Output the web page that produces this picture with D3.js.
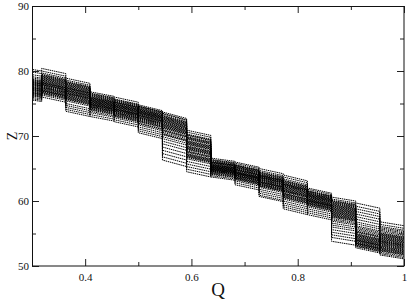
<!DOCTYPE html>
<html>
<head>
<meta charset="utf-8">
<script src="https://cdn.jsdelivr.net/npm/d3@7"></script>
<style>
	body { margin: 0; background: #fff; }
	svg { display: block; }
	text { font-family: "Liberation Serif", "DejaVu Serif", serif; fill: #111; }
</style>
</head>
<body>
<div id="chart"></div>
<script>
'use strict';

// Q steps in 1/22 (native contacts), one band of Z values per step (value at left edge of step)
var nContacts = 22;
var firstStep = 6;

var xTicks = [0.4, 0.6, 0.8, 1];
var xMinor = [0.5, 0.7, 0.9];
var yTicks = [50, 60, 70, 80, 90];
var yMinor = [55, 65, 75, 85];

// how much Z falls across each step
var stepDrop = [0.6, 0.8, 0.8, 0.7, 0.8, 0.9, 1.0, 0.8, 0.5, 0.8, 0.8, 0.9, 0.8, 0.6, 0.8, 0.6];

var band06 = [80.6, 80.2, 79.8, 79.5, 79.3, 79.1, 78.9, 78.8, 78.6, 78.5, 78.3, 78.2, 78.0, 77.9, 77.8, 77.6, 77.5, 77.4, 77.2, 77.1, 77.0, 76.9, 76.7, 76.5, 76.3, 76.1, 75.9, 78.4, 77.7, 78.7,
	78.1, 77.3, 78.6, 77.8, 76.8, 79.0, 77.0, 78.3, 77.5, 76.6];
var band07 = [80.4, 80.0, 79.7, 79.5, 79.3, 79.1, 79.0, 78.8, 78.7, 78.5, 78.4, 78.2, 78.1, 77.9, 77.8, 77.6, 77.5, 77.4, 77.2, 77.1, 77.0, 76.8, 76.7, 76.5, 76.3, 76.0, 78.9, 78.3, 77.7, 77.3,
	78.6, 77.9, 79.2, 77.5, 78.0, 76.9, 79.4, 78.2, 77.0, 76.6];
var band08 = [78.9, 78.6, 78.4, 78.2, 78.0, 77.9, 77.7, 77.6, 77.4, 77.3, 77.1, 77.0, 76.8, 76.7, 76.5, 76.4, 76.2, 76.0, 75.8, 75.6, 75.4, 75.0, 74.7, 74.4, 74.1, 73.8, 77.8, 77.2, 76.6, 75.9,
	77.5, 76.9, 78.1, 76.3, 77.0, 75.7, 78.3, 76.6, 77.4, 76.1];
var band09 = [76.8, 76.6, 76.4, 76.3, 76.1, 76.0, 75.9, 75.7, 75.6, 75.5, 75.3, 75.2, 75.1, 74.9, 74.8, 74.7, 74.5, 74.4, 74.3, 74.1, 74.0, 73.8, 73.6, 73.3, 73.0, 75.8, 75.4, 75.0, 74.6, 74.2,
	75.9, 75.5, 76.2, 74.9, 75.1, 74.5, 76.5, 75.7, 74.8, 75.3];
var band10 = [76.0, 75.7, 75.5, 75.4, 75.2, 75.1, 74.9, 74.8, 74.6, 74.5, 74.4, 74.2, 74.1, 74.0, 73.8, 73.7, 73.6, 73.4, 73.3, 73.1, 73.0, 72.8, 72.5, 72.2, 75.0, 74.7, 74.3, 73.9, 73.5, 75.3,
	74.9, 74.5, 75.2, 73.9, 74.1, 73.6, 75.6, 74.7, 74.2, 73.2];
var band11 = [74.8, 74.6, 74.5, 74.3, 74.2, 74.1, 73.9, 73.8, 73.6, 73.5, 73.4, 73.2, 73.1, 72.9, 72.8, 72.6, 72.5, 72.3, 72.2, 72.0, 71.7, 71.4, 71.1, 70.8, 70.5, 74.0, 73.7, 73.3, 72.7, 71.9,
	73.9, 73.5, 74.4, 73.0, 72.8, 74.6, 73.2, 72.4, 74.1, 73.7];
var band12 = [73.7, 73.4, 73.2, 73.0, 72.8, 72.6, 72.4, 72.2, 72.0, 71.8, 71.6, 71.4, 71.2, 71.0, 70.8, 70.6, 70.4, 70.2, 69.9, 69.6, 69.2, 68.8, 68.3, 67.8, 67.3, 66.8, 66.3, 72.9, 71.5, 70.3,
	72.7, 72.3, 71.9, 73.1, 72.1, 71.3, 73.5, 70.9, 72.5, 71.7];
var band13 = [70.9, 70.6, 70.3, 70.1, 69.9, 69.7, 69.5, 69.3, 69.1, 68.9, 68.7, 68.5, 68.3, 68.1, 67.9, 67.7, 67.5, 67.3, 67.1, 66.9, 66.7, 66.5, 66.1, 65.7, 65.3, 64.9, 64.5, 69.6, 68.2, 67.0,
	69.8, 69.2, 68.8, 68.4, 68.0, 67.6, 70.2, 69.0, 67.2, 66.8];
var band14 = [66.6, 66.4, 66.3, 66.1, 66.0, 65.9, 65.8, 65.6, 65.5, 65.4, 65.3, 65.2, 65.1, 65.0, 64.9, 64.8, 64.7, 64.6, 64.5, 64.3, 64.1, 63.9, 63.7, 65.7, 65.2, 64.9, 64.4, 66.2, 65.0, 64.2,
	65.9, 65.5, 65.1, 64.8, 65.6, 64.6, 66.0, 65.3, 64.7, 65.4];
var band15 = [66.0, 65.8, 65.6, 65.5, 65.3, 65.2, 65.1, 64.9, 64.8, 64.7, 64.5, 64.4, 64.3, 64.2, 64.0, 63.9, 63.8, 63.6, 63.5, 63.3, 63.1, 62.8, 62.5, 65.4, 64.6, 64.1, 63.7, 65.0, 64.4, 63.4,
	65.2, 64.8, 64.5, 64.2, 63.9, 65.5, 64.0, 63.6, 64.9, 64.3];
var band16 = [65.0, 64.7, 64.5, 64.3, 64.2, 64.0, 63.9, 63.7, 63.6, 63.4, 63.3, 63.1, 63.0, 62.8, 62.7, 62.5, 62.3, 62.1, 61.8, 61.5, 61.2, 60.9, 60.7, 64.1, 63.5, 62.9, 62.4, 63.8, 63.2, 62.6,
	64.0, 63.6, 63.3, 62.9, 63.9, 62.6, 64.4, 63.0, 62.3, 63.7];
var band17 = [64.0, 63.7, 63.4, 63.2, 63.0, 62.8, 62.6, 62.4, 62.2, 62.0, 61.8, 61.6, 61.4, 61.2, 61.0, 60.8, 60.6, 60.3, 60.0, 59.7, 59.4, 59.1, 58.8, 62.9, 62.3, 61.7, 61.1, 60.5, 62.5, 61.5,
	62.7, 62.1, 61.6, 61.2, 62.4, 60.9, 63.1, 61.9, 60.7, 62.6];
var band18 = [62.0, 61.8, 61.6, 61.5, 61.3, 61.2, 61.0, 60.9, 60.8, 60.6, 60.5, 60.4, 60.2, 60.1, 60.0, 59.8, 59.7, 59.5, 59.3, 59.1, 58.8, 58.5, 58.2, 57.9, 61.4, 60.7, 60.3, 59.9, 59.6, 61.1,
	61.0, 60.6, 60.3, 60.0, 61.2, 59.7, 60.8, 61.5, 60.1, 59.4];
var band19 = [60.6, 60.3, 60.1, 59.9, 59.7, 59.5, 59.3, 59.1, 58.9, 58.7, 58.5, 58.3, 58.1, 57.9, 57.7, 57.5, 57.3, 57.1, 56.9, 56.6, 56.3, 56.0, 55.6, 55.2, 54.8, 54.4, 53.8, 59.4, 58.6, 57.8,
	59.8, 59.2, 58.8, 58.4, 59.6, 58.0, 57.6, 60.0, 59.0, 58.2];
var band20 = [59.7, 59.2, 58.8, 58.4, 58.0, 57.6, 57.2, 56.8, 56.5, 56.2, 56.0, 55.8, 55.6, 55.4, 55.2, 55.0, 54.8, 54.6, 54.4, 54.3, 54.1, 54.0, 53.8, 53.7, 53.5, 53.4, 53.2, 53.1, 53.0, 52.8,
	54.9, 54.5, 54.2, 53.9, 53.6, 53.3, 55.3, 54.7, 54.0, 53.5];
var band21 = [56.8, 56.4, 56.1, 55.9, 55.7, 55.5, 55.3, 55.1, 54.9, 54.8, 54.6, 54.4, 54.3, 54.1, 54.0, 53.8, 53.7, 53.5, 53.4, 53.2, 53.1, 52.9, 52.8, 52.6, 52.5, 52.3, 52.1, 51.9, 51.7, 55.0,
	54.7, 54.2, 53.9, 53.6, 53.3, 53.0, 52.7, 54.5, 53.8, 52.4];

var bands = [band06, band07, band08, band09, band10, band11, band12, band13,
	band14, band15, band16, band17, band18, band19, band20, band21];

// size of page and plot box
var width = 409;
var height = 300;
var margin = { top: 6, right: 5, bottom: 34, left: 32 };
var plotW = width - margin.left - margin.right;
var plotH = height - margin.top - margin.bottom;

var x = d3.scaleLinear().domain([0.3, 1]).range([0, plotW]);
var y = d3.scaleLinear().domain([50, 90]).range([plotH, 0]);

var svg = d3.select("#chart")
	.append("svg")
	.attr("width", width)
	.attr("height", height);

svg.append("defs").append("clipPath")
	.attr("id", "plotClip")
	.append("rect")
	.attr("width", plotW)
	.attr("height", plotH);

var g = svg.append("g")
	.attr("transform", "translate(" + margin.left + "," + margin.top + ")");

// build one trajectory per index: a run across each step, then a jump at the boundary
var trajectories = d3.range(band06.length).map(function (i) {
	var pts = [];
	bands.forEach(function (band, k) {
		var q0 = (firstStep + k) / nContacts;
		var q1 = (firstStep + k + 1) / nContacts;
		pts.push([q0, band[i]]);
		pts.push([q1, band[i] - stepDrop[k]]);
	});
	return pts;
});

var line = d3.line()
	.x(function (d) { return x(d[0]); })
	.y(function (d) { return y(d[1]); });

g.append("g")
	.attr("clip-path", "url(#plotClip)")
	.selectAll("path")
	.data(trajectories)
	.enter()
	.append("path")
	.attr("d", line)
	.style("fill", "none")
	.style("stroke", "#000")
	.style("stroke-width", 1)
	.style("stroke-dasharray", "1.5,0.7");

// axes, ticks pointing inwards on all four sides
function addAxis(axis, tr) {
	var a = g.append("g").attr("transform", tr).call(axis);
	a.attr("font-family", "Liberation Serif").attr("font-size", 11);
	a.select(".domain").remove();
	a.selectAll("line").style("stroke", "#222");
	return a;
}

addAxis(d3.axisBottom(x).tickValues(xTicks).tickSize(-7).tickPadding(11)
	.tickFormat(function (d) { return d === 1 ? "1" : d3.format(".1f")(d); }), "translate(0," + plotH + ")")
	.selectAll("text").attr("dy", "0.4em");
addAxis(d3.axisBottom(x).tickValues(xMinor).tickSize(-4).tickFormat(""), "translate(0," + plotH + ")");
addAxis(d3.axisTop(x).tickValues(xTicks).tickSize(-7).tickFormat(""), "translate(0,0)");
addAxis(d3.axisTop(x).tickValues(xMinor).tickSize(-4).tickFormat(""), "translate(0,0)");

addAxis(d3.axisLeft(y).tickValues(yTicks).tickSize(-7).tickPadding(3), "translate(0,0)");
addAxis(d3.axisLeft(y).tickValues(yMinor).tickSize(-4).tickFormat(""), "translate(0,0)");
addAxis(d3.axisRight(y).tickValues(yTicks).tickSize(-7).tickFormat(""), "translate(" + plotW + ",0)");
addAxis(d3.axisRight(y).tickValues(yMinor).tickSize(-4).tickFormat(""), "translate(" + plotW + ",0)");

// frame
g.append("rect")
	.attr("x", 0.5)
	.attr("y", 0.5)
	.attr("width", plotW - 0.5)
	.attr("height", plotH - 0.5)
	.style("fill", "none")
	.style("stroke", "#111")
	.style("stroke-width", 1);

// axis titles
svg.append("text")
	.attr("x", margin.left + x(0.65))
	.attr("y", 296)
	.attr("text-anchor", "middle")
	.style("font-size", "19px")
	.text("Q");

svg.append("text")
	.attr("transform", "translate(17," + (margin.top + y(70)) + ") rotate(-90)")
	.attr("text-anchor", "middle")
	.style("font-size", "14px")
	.text("Z");
</script>
</body>
</html>
